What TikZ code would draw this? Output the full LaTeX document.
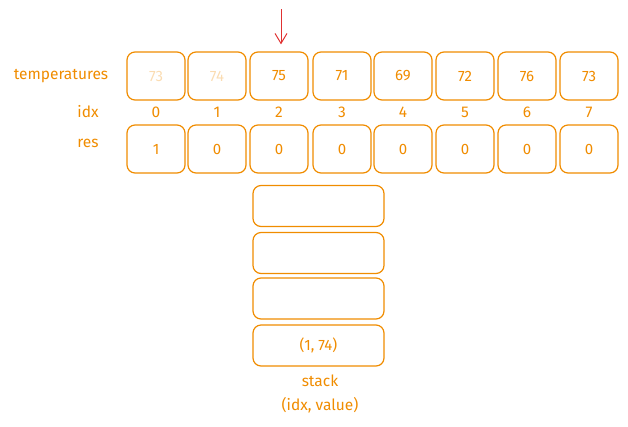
\documentclass[tikz,border=0pt]{standalone}
\usepackage{fontspec}
\setmainfont{Fira Sans}
\usetikzlibrary{arrows.meta}
\definecolor{ora}{HTML}{F08C00}
\definecolor{redarr}{HTML}{E03131}
\begin{document}
\begin{tikzpicture}[x=1pt,y=-1pt,
  cell/.style={draw=ora,line width=1.2pt,rounded corners=8pt,minimum width=58pt,minimum height=48pt,text=ora,font=\fontsize{15}{17}\selectfont,inner sep=0pt},
  scell/.style={draw=ora,line width=1.2pt,rounded corners=8pt,minimum width=131pt,minimum height=41pt,text=ora,font=\fontsize{15}{17}\selectfont,inner sep=0pt},
  lbl/.style={text=ora,font=\fontsize{15.5}{17}\selectfont,inner sep=0pt}]
\useasboundingbox (0,0) rectangle (628,426);
% temperatures row
\foreach \i/\x/\v/\op in {0/156/73/0.3,1/217/74/0.3,2/279/75/1,3/342/71/1,4/403/69/1,5/465/72/1,6/527/76/1,7/589/73/1}{
  \node[cell,text opacity=\op] (t\i) at (\x,76) {\v};
  \node[lbl] (i\i) at (\x,112) {\i};
}
\foreach \i/\x/\v in {0/156/1,1/217/0,2/279/0,3/342/0,4/403/0,5/465/0,6/527/0,7/589/0}{
  \node[cell] (r\i) at (\x,149) {\v};
}
\node[lbl] (lt) at (61,76) {temperatures};
\node[lbl] (li) at (88,112) {idx};
\node[lbl] (lr) at (88,143) {res};
% arrow
\coordinate (atop) at (281,9);
\draw[redarr,line width=1pt,-{Straight Barb[length=10pt,width=12pt]}] (atop) -- ([yshift=7pt]t2.north -| atop);
% stack
\node[scell] (s1) at (318.5,206) {};
\node[scell] (s2) at (318.5,253) {};
\node[scell] (s3) at (318.5,298.5) {};
\node[scell] (s4) at (318.5,345.5) {(1, 74)};
\node[lbl] (st) at (320,381) {stack};
\node[lbl] (sv) at (320,405) {(idx, value)};
\end{tikzpicture}
\end{document}
